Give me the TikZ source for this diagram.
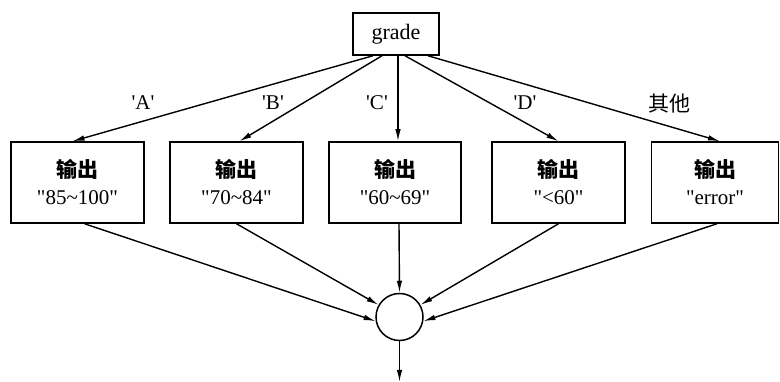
\documentclass[tikz,border=0pt]{standalone}
\usepackage{fontspec}
\setmainfont{Liberation Serif}[Ligatures=TeXOff]
\newfontfamily\cjk{Noto Sans CJK SC}
\usetikzlibrary{arrows.meta,calc}
\begin{document}
\begin{tikzpicture}[x=1pt,y=-1pt,
  box/.style={draw,line width=1.5pt,minimum height=81pt,inner sep=0pt,font=\fontsize{21}{27}\selectfont,align=center},
  arr/.style={line width=1.4pt,-{Latex[length=12pt,width=5.5pt]}},
  lab/.style={font=\fontsize{21}{24}\selectfont,inner sep=0pt}]
\useasboundingbox (0,0) rectangle (780,382);
\node[draw,line width=1.5pt,minimum width=86pt,minimum height=42pt,inner sep=0pt,font=\fontsize{22}{24}\selectfont] (g) at (396,34) {grade};
\node[box,minimum width=133pt] (b1) at (77.5,182.5) {{\cjk\bfseries 输出}\\"85\char`\~100"};
\node[box,minimum width=133pt] (b2) at (236.5,182.5) {{\cjk\bfseries 输出}\\"70\char`\~84"};
\node[box,minimum width=132pt] (b3) at (395,182.5) {{\cjk\bfseries 输出}\\"60\char`\~69"};
\node[box,minimum width=133pt] (b4) at (558.5,182.5) {{\cjk\bfseries 输出}\\"<60"};
\node[box,minimum width=127pt] (b5) at (715,182.5) {{\cjk\bfseries 输出}\\"error"};
\node[draw,circle,line width=1.5pt,minimum size=47pt,inner sep=0pt] (c) at (399.5,317) {};
\coordinate (out) at (399.5,382);
\draw[arr] ([xshift=-23pt]g.south) -- ([xshift=-5pt]b1.north);
\draw[arr] ([xshift=-14pt]g.south) -- ([xshift=3pt]b2.north);
\draw[arr] ([xshift=2pt]g.south) -- ([xshift=3pt]b3.north);
\draw[arr] ([xshift=9pt]g.south) -- (b4.north);
\draw[arr] ([xshift=32pt]g.south) -- ([xshift=5pt]b5.north);
\node[lab] (la) at (143,103) {'A'};
\node[lab] (lb) at (273,103) {'B'};
\node[lab] (lc) at (377,103) {'C'};
\node[lab] (ld) at (525,103) {'D'};
\node[lab] (le) at (669,104) {\cjk 其他};
\draw[arr] ([xshift=7pt]b1.south) -- (c.190);
\draw[arr] ([xshift=0pt]b2.south) -- (c.150);
\draw[arr] ([xshift=4pt]b3.south) -- (c.north);
\draw[arr] (b4.south) -- (c.30);
\draw[arr] ([xshift=2pt]b5.south) -- (c.-10);
\draw[arr] (c.south) -- (out);
\end{tikzpicture}
\end{document}
